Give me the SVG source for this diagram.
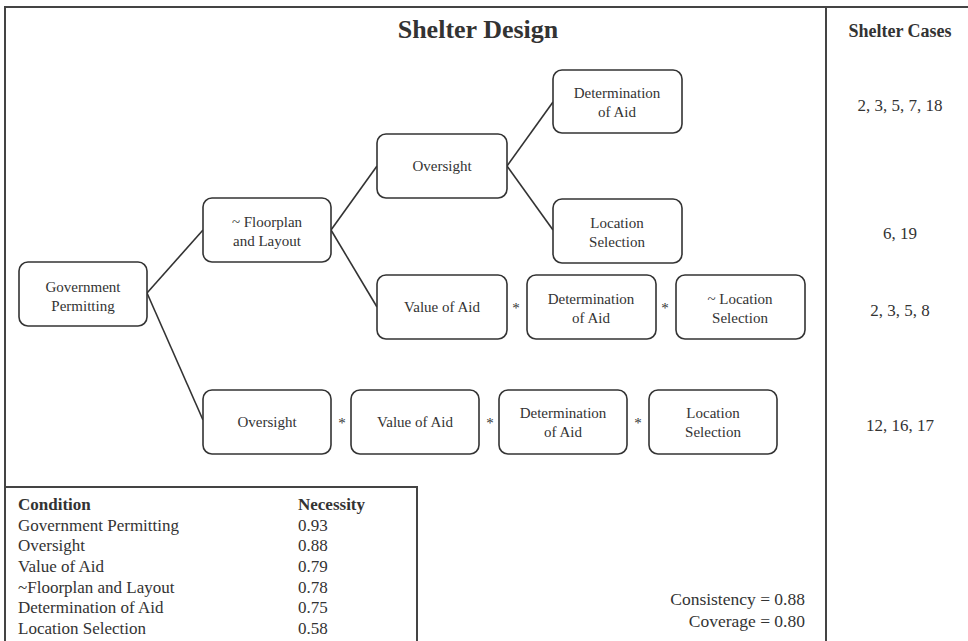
<svg xmlns="http://www.w3.org/2000/svg" width="968" height="641" viewBox="0 0 968 641">
<style>
text{font-family:"Liberation Serif","Times New Roman",serif;fill:#333}
.n rect{fill:#fff;stroke:#333;stroke-width:1.6}
.n text{font-size:15px;text-anchor:middle}
.c line{stroke:#333;stroke-width:1.6}
.f{fill:none;stroke:#444;stroke-width:2}
.star{font-size:15px;text-anchor:middle}
.tb{font-size:17px}
.cs{font-size:17px;text-anchor:middle}
</style>
<rect width="968" height="641" fill="#fff"/>
<g id="frame">
<path class="f" d="M5,641 V7 H968"/>
<path class="f" d="M826,7 V641"/>
<path class="f" d="M5,487 H417 V641"/>
</g>
<text x="478" y="38" font-size="26" font-weight="bold" text-anchor="middle">Shelter Design</text>
<text x="900" y="37" font-size="18" font-weight="bold" text-anchor="middle">Shelter Cases</text>
<g class="c" id="connectors">
<line x1="147" y1="293" x2="203" y2="230"/>
<line x1="147" y1="293" x2="203" y2="420"/>
<line x1="331" y1="230" x2="377" y2="166"/>
<line x1="331" y1="230" x2="377" y2="307"/>
<line x1="507" y1="166" x2="553" y2="102"/>
<line x1="507" y1="166" x2="553" y2="230"/>
</g>
<g class="n" id="gov"><rect x="19" y="262" width="128" height="64" rx="9"/><text x="83" y="292">Government</text><text x="83" y="311">Permitting</text></g>
<g class="n" id="floor"><rect x="203" y="198" width="128" height="64" rx="9"/><text x="267" y="227">~ Floorplan</text><text x="267" y="246">and Layout</text></g>
<g class="n" id="over1"><rect x="377" y="134" width="130" height="64" rx="9"/><text x="442" y="171">Oversight</text></g>
<g class="n" id="det1"><rect x="553" y="70" width="129" height="63" rx="9"/><text x="617" y="98">Determination</text><text x="617" y="117">of Aid</text></g>
<g class="n" id="loc1"><rect x="553" y="199" width="129" height="64" rx="9"/><text x="617" y="228">Location</text><text x="617" y="247">Selection</text></g>
<g class="n" id="val1"><rect x="377" y="275" width="130" height="64" rx="9"/><text x="442" y="312">Value of Aid</text></g>
<text class="star" x="516" y="313">*</text>
<g class="n" id="det2"><rect x="527" y="275" width="129" height="64" rx="9"/><text x="591" y="304">Determination</text><text x="591" y="323">of Aid</text></g>
<text class="star" x="665" y="313">*</text>
<g class="n" id="loc2"><rect x="676" y="275" width="129" height="64" rx="9"/><text x="740" y="304">~ Location</text><text x="740" y="323">Selection</text></g>
<g class="n" id="over2"><rect x="203" y="390" width="128" height="64" rx="9"/><text x="267" y="427">Oversight</text></g>
<text class="star" x="342" y="428">*</text>
<g class="n" id="val2"><rect x="351" y="390" width="128" height="64" rx="9"/><text x="415" y="427">Value of Aid</text></g>
<text class="star" x="490" y="428">*</text>
<g class="n" id="det3"><rect x="499" y="390" width="128" height="64" rx="9"/><text x="563" y="418">Determination</text><text x="563" y="437">of Aid</text></g>
<text class="star" x="638" y="428">*</text>
<g class="n" id="loc3"><rect x="649" y="390" width="128" height="64" rx="9"/><text x="713" y="418">Location</text><text x="713" y="437">Selection</text></g>
<g id="cases">
<text class="cs" x="900" y="111">2, 3, 5, 7, 18</text>
<text class="cs" x="900" y="239">6, 19</text>
<text class="cs" x="900" y="316">2, 3, 5, 8</text>
<text class="cs" x="900" y="431">12, 16, 17</text>
</g>
<g id="table" class="tb">
<text x="18" y="510" font-weight="bold">Condition</text><text x="298" y="510" font-weight="bold">Necessity</text>
<text x="18" y="531">Government Permitting</text><text x="298" y="531">0.93</text>
<text x="18" y="551">Oversight</text><text x="298" y="551">0.88</text>
<text x="18" y="572">Value of Aid</text><text x="298" y="572">0.79</text>
<text x="18" y="593">~Floorplan and Layout</text><text x="298" y="593">0.78</text>
<text x="18" y="613">Determination of Aid</text><text x="298" y="613">0.75</text>
<text x="18" y="634">Location Selection</text><text x="298" y="634">0.58</text>
</g>
<g id="stats" font-size="17.5">
<text x="805" y="605" text-anchor="end">Consistency = 0.88</text>
<text x="805" y="627" text-anchor="end">Coverage = 0.80</text>
</g>
</svg>
